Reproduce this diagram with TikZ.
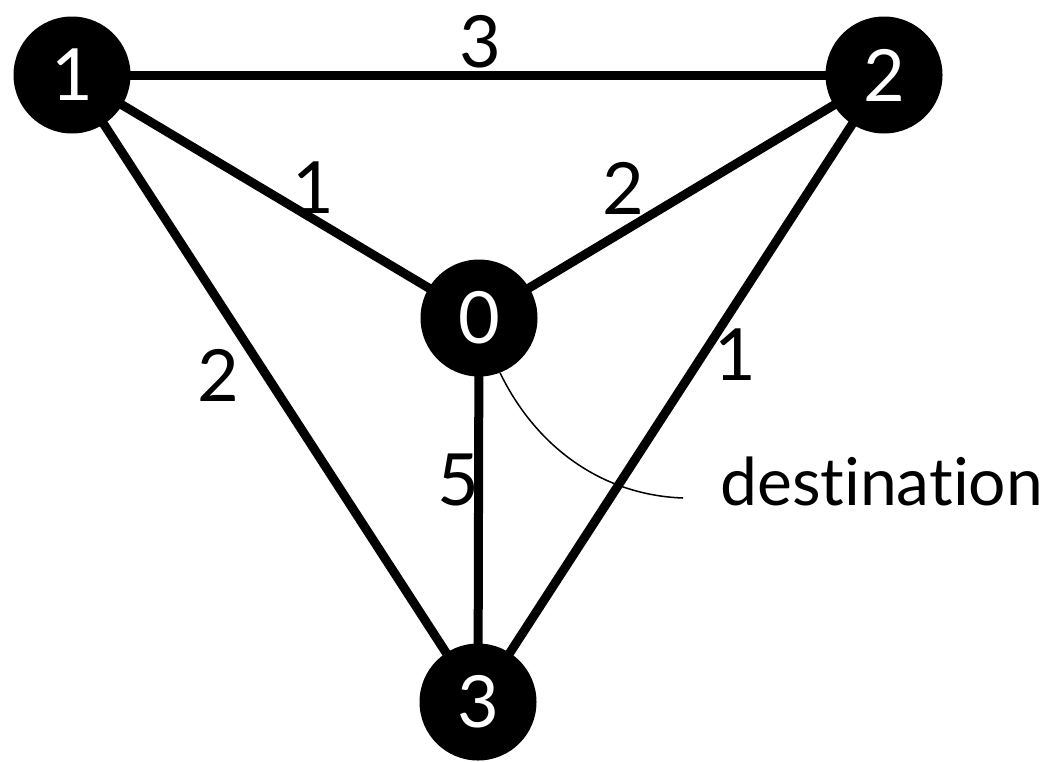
\documentclass[tikz,border=0pt]{standalone}
\usepackage{fontspec}
\setmainfont{Lato}[Ligatures={NoCommon,NoRare}]
\usetikzlibrary{backgrounds}
\begin{document}
\begin{tikzpicture}[x=1pt,y=-1pt,
  vertex/.style={circle,fill=black,draw=none,minimum size=117pt,inner sep=0pt,text=white,font=\fontsize{72}{72}\selectfont},
  edge/.style={line width=9pt},
  wlabel/.style={inner sep=0pt,font=\fontsize{72}{72}\selectfont},
  note/.style={line width=1.5pt}]
\useasboundingbox (0,0) rectangle (1056,761);
\node[vertex] (n1) at (72,75) {1};
\node[vertex] (n2) at (884,75) {2};
\node[vertex] (n0) at (479,318) {0};
\node[vertex] (n3) at (478,702) {3};
\begin{scope}[on background layer]
\draw[edge] (n1.center) -- (n2.center);
\draw[edge] (n1.center) -- (n0.center);
\draw[edge] (n1.center) -- (n3.center);
\draw[edge] (n2.center) -- (n0.center);
\draw[edge] (n2.center) -- (n3.center);
\draw[edge] (n0.center) -- (n3.center);
\end{scope}
\node[wlabel] (l12) at (480,42) {3};
\node[wlabel] (l10) at (313,188) {1};
\node[wlabel] (l20) at (623,188) {2};
\node[wlabel] (l13) at (218,375) {2};
\node[wlabel] (l23) at (735,355) {1};
\node[wlabel] (l03) at (458,480) {5};
\coordinate (destend) at (683,498);
\draw[note] (n0.-69) .. controls (535,445) and (600,495) .. (destend);
\node[anchor=base west,inner sep=0pt,font=\fontsize{66}{66}\selectfont] (dest) at (720,505) {destination};
\end{tikzpicture}
\end{document}
